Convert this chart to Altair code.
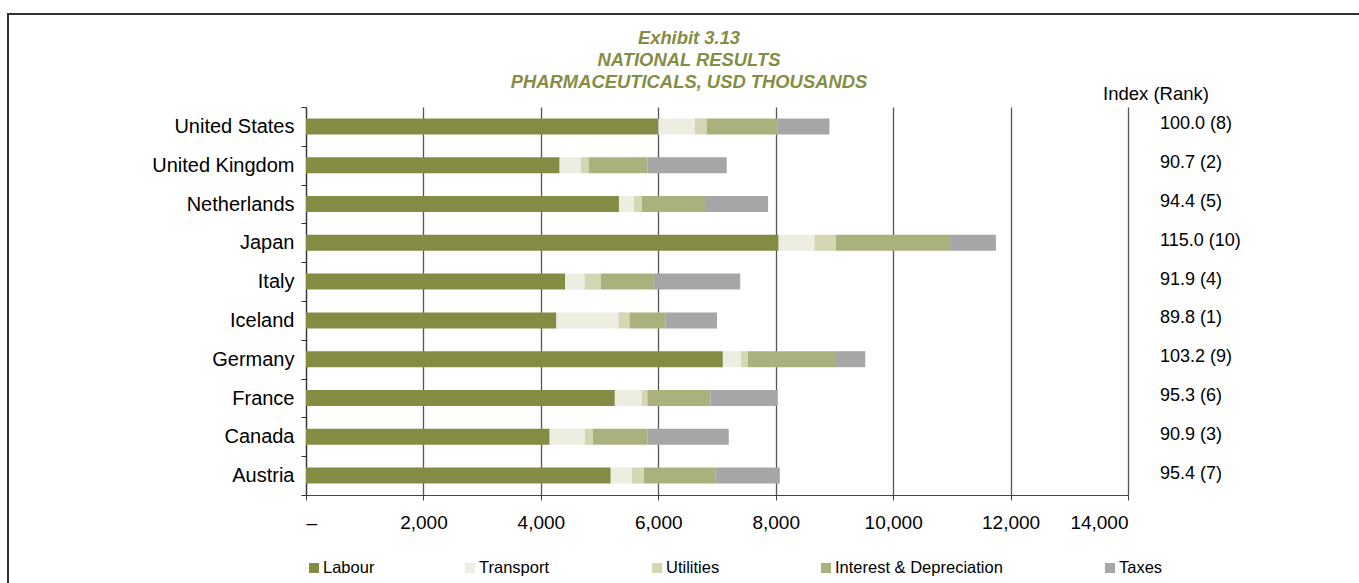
import altair as alt
import pandas as pd

countries = ["United States", "United Kingdom", "Netherlands", "Japan", "Italy",
             "Iceland", "Germany", "France", "Canada", "Austria"]
series = ["Labour", "Transport", "Utilities", "Interest & Depreciation", "Taxes"]
labour = [6000, 4320, 5330, 8050, 4415, 4265, 7100, 5260, 4150, 5190]
transport = [620, 360, 255, 610, 330, 1055, 310, 455, 600, 360]
utilities = [205, 135, 135, 365, 275, 190, 115, 100, 135, 205]
interest = [1210, 1000, 1075, 1945, 905, 615, 1485, 1075, 930, 1215]
taxes = [880, 1350, 1075, 780, 1470, 875, 515, 1145, 1385, 1100]
index_rank = ["100.0 (8)", "90.7 (2)", "94.4 (5)", "115.0 (10)", "91.9 (4)",
              "89.8 (1)", "103.2 (9)", "95.3 (6)", "90.9 (3)", "95.4 (7)"]
x_ticks = [0, 2000, 4000, 6000, 8000, 10000, 12000, 14000]
title_lines = ["Exhibit 3.13", "NATIONAL RESULTS", "PHARMACEUTICALS, USD THOUSANDS"]

colors = ["#848B43", "#EDEDE2", "#D4D6B4", "#AAB17D", "#A6A6A6"]
FONT = "Liberation Sans"
W, H = 822, 388
LEFT, TOP = 306, 107

rows = []
for vals, s_i in zip([labour, transport, utilities, interest, taxes], range(5)):
    for c, v in zip(countries, vals):
        rows.append({"country": c, "series": series[s_i], "value": v, "ord": s_i})
df = pd.DataFrame(rows)
idx_df = pd.DataFrame({"country": countries, "label": index_rank})
one = pd.DataFrame({"a": [0]})

y_enc = alt.Y("country:N", sort=countries,
              scale=alt.Scale(paddingInner=0, paddingOuter=0),
              axis=alt.Axis(title=None, labelFont=FONT, labelFontSize=20,
                            labelColor="#000000", domainColor="#333333",
                            domainWidth=1.2, tickColor="#333333", tickSize=5,
                            tickBand="extent", labelPadding=7, labelLimit=300))

bars = alt.Chart(df).mark_bar(size=16).encode(
    x=alt.X("value:Q", stack="zero",
            scale=alt.Scale(domain=[0, 14000], nice=False),
            axis=alt.Axis(title=None, values=x_ticks, grid=True,
                          gridColor="#555555", gridWidth=1.3,
                          domainColor="#444444", domainWidth=1.2,
                          tickColor="#444444", tickSize=5, labelPadding=13,
                          labelFont=FONT, labelFontSize=19, labelColor="#000000",
                          labelExpr="datum.value == 0 ? '–' : format(datum.value, ',')")),
    y=y_enc,
    color=alt.Color("series:N", scale=alt.Scale(domain=series, range=colors), legend=None),
    order=alt.Order("ord:Q"),
)

idx_text = alt.Chart(idx_df).mark_text(align="left", baseline="middle", font=FONT,
                                       fontSize=18, color="#000000", dy=-2).encode(
    y=alt.Y("country:N", sort=countries),
    x=alt.value(1160 - LEFT),
    text="label:N",
)

header = alt.Chart(one).mark_text(align="left", baseline="middle", font=FONT,
                                  fontSize=18.5, color="#000000").encode(
    x=alt.value(1103 - LEFT), y=alt.value(94 - TOP), text=alt.value("Index (Rank)"))

layers = [bars, idx_text, header]

title_y = [38, 60, 82]
for line, ty in zip(title_lines, title_y):
    layers.append(alt.Chart(one).mark_text(align="center", baseline="middle", font=FONT,
                                           fontSize=18.4, fontWeight="bold", fontStyle="italic",
                                           color="#858D45").encode(
        x=alt.value(689 - LEFT), y=alt.value(ty - TOP), text=alt.value(line)))

leg_x = [309, 465, 652, 821, 1105]
for name, col, lx in zip(series, colors, leg_x):
    layers.append(alt.Chart(one).mark_square(size=100, opacity=1, filled=True).encode(
        x=alt.value(lx + 5 - LEFT), y=alt.value(568 - TOP), color=alt.value(col)))
    layers.append(alt.Chart(one).mark_text(align="left", baseline="middle", font=FONT,
                                           fontSize=16.5, color="#000000").encode(
        x=alt.value(lx + 14 - LEFT), y=alt.value(568 - TOP), text=alt.value(name)))

layers.append(alt.Chart(one).mark_rule(color="#333333", strokeWidth=2).encode(
    x=alt.value(8 - LEFT), y=alt.value(13 - TOP), y2=alt.value(583 - TOP)))
layers.append(alt.Chart(one).mark_rule(color="#333333", strokeWidth=2).encode(
    x=alt.value(7 - LEFT), x2=alt.value(1359 - LEFT), y=alt.value(14 - TOP)))

chart = alt.layer(*layers).properties(
    width=W, height=H,
    autosize=alt.AutoSizeParams(type="none"),
    padding={"left": LEFT, "top": TOP, "right": 1359 - LEFT - W, "bottom": 583 - TOP - H},
    background="#ffffff",
).configure_view(strokeWidth=0)

chart.save("out.html", embed_options={"renderer": "svg", "actions": False})
